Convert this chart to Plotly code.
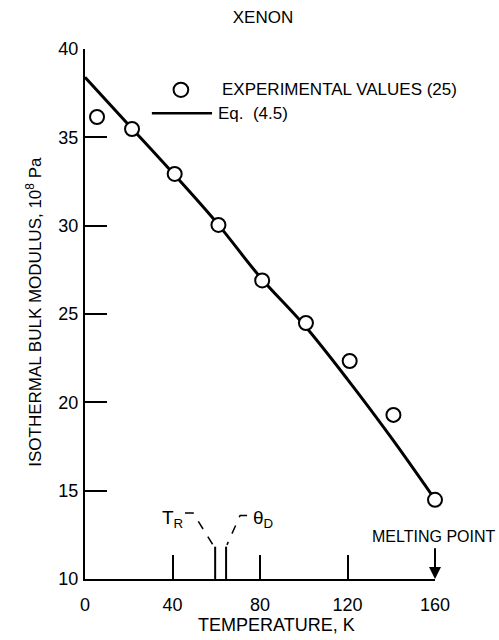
import plotly.graph_objects as go

# Experimental values (25)
temp_exp = [5.5, 21.5, 41, 61, 81, 101, 121, 141, 160]
bulk_exp = [36.15, 35.47, 32.93, 30.04, 26.9, 24.49, 22.34, 19.29, 14.48]

# Eq. (4.5) curve
temp_fit = [0, 20, 40, 60, 80, 100, 120, 140, 160]
bulk_fit = [38.4, 35.7, 33.0, 30.2, 27.1, 24.4, 21.3, 18.0, 14.5]

x_ticks = [0, 40, 80, 120, 160]
y_ticks = [10, 15, 20, 25, 30, 35, 40]

T_R = 59.5
THETA_D = 64.5
T_MELT = 160

FONT = "Liberation Sans, Arial, sans-serif"

fig = go.Figure()
fig.add_trace(go.Scatter(x=temp_fit, y=bulk_fit, mode="lines", line_shape="spline",
                         line=dict(color="black", width=3), showlegend=False,
                         cliponaxis=False, hoverinfo="skip"))
fig.add_trace(go.Scatter(x=temp_exp, y=bulk_exp, mode="markers",
                         marker=dict(symbol="circle", size=14, color="white",
                                     line=dict(color="black", width=2)),
                         showlegend=False, cliponaxis=False))

shapes = []
# T_R and theta_D marker ticks
for t in (T_R, THETA_D):
    shapes.append(dict(type="line", xref="x", yref="y", x0=t, x1=t, y0=10, y1=11.83,
                       line=dict(color="black", width=2)))
# leaders
shapes.append(dict(type="path", xref="x", yref="y",
                   path="M 45.7,13.74 L 49.4,13.74 L 58.5,11.93",
                   line=dict(color="black", width=1.5, dash="dash")))
shapes.append(dict(type="path", xref="x", yref="y",
                   path="M 74.1,13.6 L 70.9,13.6 L 64.9,11.93",
                   line=dict(color="black", width=1.5, dash="dash")))
# legend samples
shapes.append(dict(type="circle", xref="paper", yref="paper",
                   x0=0.274 - 0.021, x1=0.274 + 0.021, y0=0.923 - 0.0135, y1=0.923 + 0.0135,
                   line=dict(color="black", width=2), fillcolor="white"))
shapes.append(dict(type="line", xref="paper", yref="paper", x0=0.191, x1=0.363,
                   y0=0.879, y1=0.879, line=dict(color="black", width=2.5)))

annotations = [
    dict(text="EXPERIMENTAL VALUES (25)", xref="paper", yref="paper", x=0.385, y=0.923,
         xanchor="left", yanchor="middle", showarrow=False, font=dict(size=17)),
    dict(text="Eq.  (4.5)", xref="paper", yref="paper", x=0.374, y=0.879,
         xanchor="left", yanchor="middle", showarrow=False, font=dict(size=17)),
    dict(text="T<sub>R</sub>", xref="x", yref="y", x=39.8, y=13.4,
         showarrow=False, font=dict(size=19)),
    dict(text="θ<sub>D</sub>", xref="x", yref="y", x=81.4, y=13.4,
         showarrow=False, font=dict(size=19)),
    dict(text="MELTING POINT", xref="paper", yref="y", x=1.177, y=12.38, xanchor="right",
         yanchor="middle", showarrow=False, font=dict(size=16)),
    dict(text="", xref="x", yref="y", x=T_MELT, y=10, ax=T_MELT, ay=11.83,
         axref="x", ayref="y", showarrow=True, arrowhead=2, arrowsize=1.2,
         arrowwidth=2, arrowcolor="black"),
    dict(text="TEMPERATURE, K", xref="paper", yref="paper", x=0.546, y=-0.087,
         xanchor="center", yanchor="middle", showarrow=False, font=dict(size=18)),
    dict(text="ISOTHERMAL BULK MODULUS, 10<sup>8</sup> Pa", xref="paper", yref="paper",
         x=-0.146, y=0.504, xanchor="center", yanchor="middle", textangle=-90,
         showarrow=False, font=dict(size=17)),
]

fig.update_layout(
    width=499, height=640,
    margin=dict(l=85, r=64, t=49, b=61),
    paper_bgcolor="white", plot_bgcolor="white",
    font=dict(family=FONT, color="black", size=18),
    title=dict(text="XENON", x=263 / 499, xref="container", xanchor="center",
               y=1 - 17 / 640, yref="container", yanchor="middle",
               font=dict(size=17)),
    shapes=shapes, annotations=annotations,
    hovermode=False,
    xaxis=dict(range=[0, 160], tickvals=x_ticks, ticks="inside", ticklen=24,
               tickwidth=2, tickcolor="black", showline=True, linecolor="black",
               linewidth=2, showgrid=False, zeroline=False, ticklabelstandoff=8,
               tickfont=dict(size=18)),
    yaxis=dict(range=[10, 40], tickvals=y_ticks, ticks="inside", ticklen=22,
               tickwidth=2, tickcolor="black", showline=True, linecolor="black",
               linewidth=2, showgrid=False, zeroline=False, ticklabelstandoff=1,
               tickfont=dict(size=18)),
)

fig.write_html("out.html", config={"displayModeBar": False},
               post_script="document.body.style.margin='0';")
